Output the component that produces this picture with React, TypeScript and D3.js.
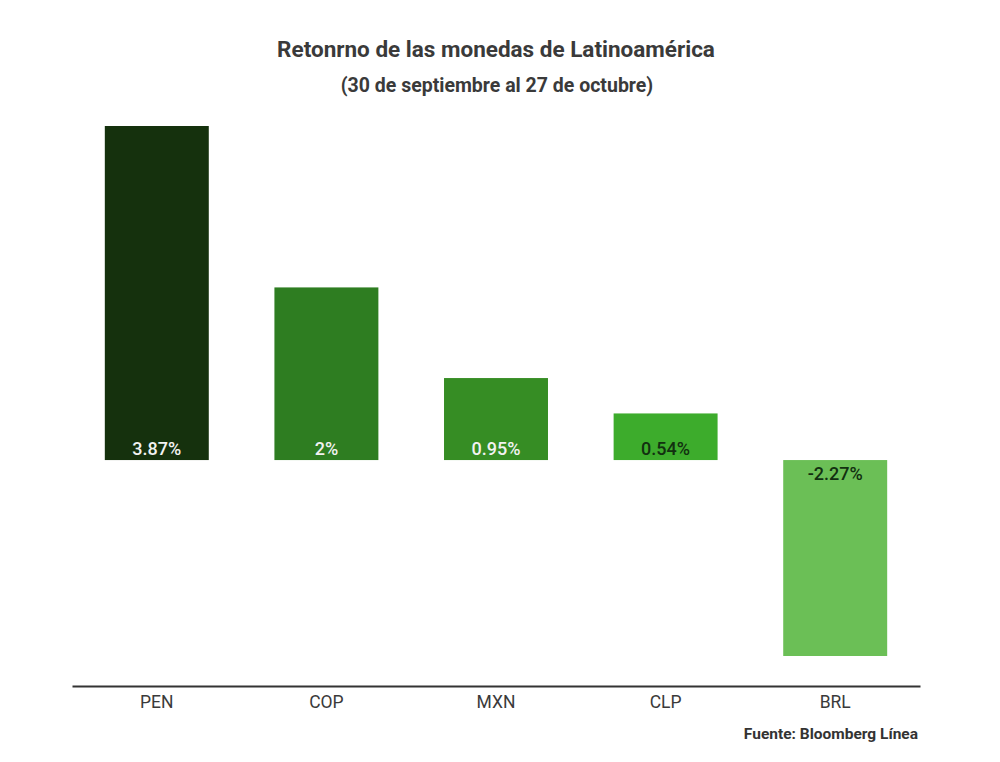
import React, { useEffect, useRef } from 'react';
import * as d3 from 'd3';

const categories = ['PEN', 'COP', 'MXN', 'CLP', 'BRL'];
const returns = [3.87, 2, 0.95, 0.54, -2.27];
const valueLabels = ['3.87%', '2%', '0.95%', '0.54%', '-2.27%'];
const barColors = ['#15310d', '#2e7d21', '#368d24', '#3dac2c', '#6bbf56'];
const labelColors = ['#f2f2f2', '#f2f2f2', '#f2f2f2', '#123010', '#123010'];

const App: React.FC = () => {
  const svgRef = useRef<SVGSVGElement | null>(null);

  useEffect(() => {
    if (!svgRef.current) return;
    const width = 1000;
    const height = 762;
    const font = 'Roboto, sans-serif';

    const svg = d3.select(svgRef.current);
    svg.selectAll('*').remove();

    svg.append('rect').attr('width', width).attr('height', height).attr('fill', '#ffffff');

    // Title
    svg
      .append('text')
      .attr('x', 496)
      .attr('y', 57)
      .attr('text-anchor', 'middle')
      .attr('font-family', font)
      .attr('font-weight', 700)
      .attr('font-size', '22.5px')
      .attr('fill', '#3a3a3a')
      .text('Retonrno de las monedas de Latinoamérica');

    svg
      .append('text')
      .attr('x', 497)
      .attr('y', 92)
      .attr('text-anchor', 'middle')
      .attr('font-family', font)
      .attr('font-weight', 700)
      .attr('font-size', '19.5px')
      .attr('fill', '#3a3a3a')
      .text('(30 de septiembre al 27 de octubre)');

    const xScale = d3
      .scaleBand<string>()
      .domain(categories)
      .range([72, 920])
      .paddingInner(0.387)
      .paddingOuter(0.1935);

    const yScale = d3.scaleLinear().domain([-2.27, 3.87]).range([656, 126]);

    // Bars
    svg
      .selectAll('rect.bar')
      .data(returns)
      .enter()
      .append('rect')
      .attr('class', 'bar')
      .attr('x', (_, i) => xScale(categories[i]) as number)
      .attr('width', xScale.bandwidth())
      .attr('y', (d) => yScale(Math.max(0, d)))
      .attr('height', (d) => Math.abs(yScale(d) - yScale(0)))
      .attr('fill', (_, i) => barColors[i]);

    // Value labels
    svg
      .selectAll('text.value')
      .data(returns)
      .enter()
      .append('text')
      .attr('class', 'value')
      .attr('x', (_, i) => (xScale(categories[i]) as number) + xScale.bandwidth() / 2)
      .attr('y', (d) => (d >= 0 ? yScale(0) - 5 : yScale(0) + 20))
      .attr('text-anchor', 'middle')
      .attr('font-family', font)
      .attr('font-weight', 500)
      .attr('font-size', '18px')
      .attr('fill', (_, i) => labelColors[i])
      .text((_, i) => valueLabels[i]);

    // Baseline axis
    const axis = svg
      .append('g')
      .attr('transform', 'translate(0,686)')
      .call(d3.axisBottom(xScale).tickSize(0).tickPadding(10));
    axis.select('.domain').attr('stroke', '#333333').attr('stroke-width', 2);
    axis
      .selectAll('text')
      .attr('font-family', font)
      .attr('font-weight', 400)
      .attr('font-size', '17.5px')
      .attr('fill', '#3a3a3a');

    // Source
    svg
      .append('text')
      .attr('x', 918)
      .attr('y', 739)
      .attr('text-anchor', 'end')
      .attr('font-family', font)
      .attr('font-weight', 700)
      .attr('font-size', '15.5px')
      .attr('fill', '#333333')
      .text('Fuente: Bloomberg Línea');
  }, []);

  return (
    <svg
      ref={svgRef}
      width={1000}
      height={762}
      style={{ position: 'absolute', left: 0, top: 0 }}
    />
  );
};

export default App;
